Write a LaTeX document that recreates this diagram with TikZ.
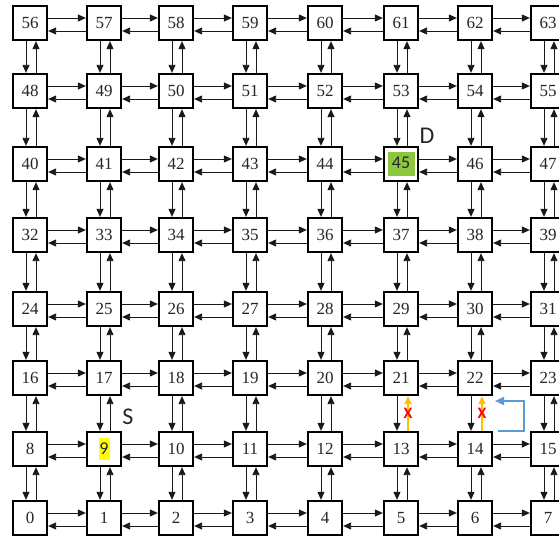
\documentclass[tikz,border=0pt]{standalone}
\usepackage{fontspec}
\setmainfont{Liberation Serif}
\newfontfamily\lblfont{Carlito}
\usetikzlibrary{arrows.meta}
\definecolor{hlgreen}{RGB}{140,198,63}
\definecolor{hlyellow}{RGB}{255,255,0}
\definecolor{warnorange}{RGB}{255,192,0}
\definecolor{reroute}{RGB}{91,155,213}
\definecolor{xred}{RGB}{255,0,0}
\newcommand\greenhl[1]{{\setlength\fboxsep{0pt}\colorbox{hlgreen}{\makebox[27pt]{\vrule width 0pt height 17pt depth 7pt\lblfont\fontsize{18}{20}\selectfont #1}}}}
\newcommand\yellowhl[1]{{\setlength\fboxsep{0pt}\colorbox{hlyellow}{\makebox[11pt]{\vrule width 0pt height 16pt depth 6pt\lblfont\fontsize{18}{20}\selectfont #1}}}}
\newcommand\celltext[1]{\ifnum#1=45 \greenhl{45}\else\ifnum#1=9 \yellowhl{9}\else #1\fi\fi}
\def\colx{{30,104,176,250,325,401,475,548}}
\def\rowy{{518,449,378,309,235,164,91,23}}
\begin{document}
\begin{tikzpicture}[x=1pt,y=-1pt,
  cell/.style={draw=black, line width=1.8pt, minimum size=34.5pt, inner sep=0pt,
    fill=white, text=black!85, font=\fontsize{17}{20}\selectfont},
  link/.style={line width=0.9pt, draw=black!90, -{Triangle[length=8pt,width=7pt]}},
  blocked/.style={line width=1.5pt, draw=warnorange, -{Triangle[length=8pt,width=7pt]}},
  xmark/.style={text=xred, inner sep=0pt, font=\lblfont\bfseries\fontsize{16}{16}\selectfont},
  detour/.style={line width=2pt, draw=reroute, -{Triangle[length=9pt,width=8pt]}},
  lbl/.style={inner sep=0pt, text=black!85, font=\lblfont\fontsize{24}{26}\selectfont}
]
\useasboundingbox (0,0) rectangle (559,540);
\clip (0,0) rectangle (559,540);
% nodes
\foreach \r in {0,...,7}{
  \foreach \c in {0,...,7}{
    \pgfmathtruncatemacro\n{8*\r+\c}
    \pgfmathsetmacro\xx{\colx[\c]}
    \pgfmathsetmacro\yy{\rowy[\r]}
    \node[cell] (n\n) at (\xx,\yy) {\celltext{\n}};
  }
}
% horizontal links
\foreach \r in {0,...,7}{
  \foreach \c in {0,...,6}{
    \pgfmathtruncatemacro\a{8*\r+\c}
    \pgfmathtruncatemacro\b{8*\r+\c+1}
    \draw[link] ([yshift=5pt]n\a.east) -- ([yshift=5pt]n\b.west);
    \draw[link] ([yshift=-8pt]n\b.west) -- ([yshift=-8pt]n\a.east);
  }
}
% vertical links
\foreach \r in {0,...,6}{
  \foreach \c in {0,...,7}{
    \pgfmathtruncatemacro\lo{8*\r+\c}
    \pgfmathtruncatemacro\hi{8*(\r+1)+\c}
    \draw[link] ([xshift=-4pt]n\hi.south) -- ([xshift=-4pt]n\lo.north);
    \ifnum\lo=13 \else\ifnum\lo=14 \else
      \draw[link] ([xshift=6pt]n\lo.north) -- ([xshift=6pt]n\hi.south);
    \fi\fi
  }
}
% blocked links
\draw[blocked] ([xshift=7pt]n13.north) -- node[xmark] {X} ([xshift=7pt]n21.south);
\draw[blocked] ([xshift=7pt]n14.north) -- node[xmark] {X} ([xshift=7pt]n22.south);
% detour
\coordinate (dstart) at (498,431);
\coordinate (dend) at (495,401);
\draw[detour] (dstart) -- ++(26,0) |- (dend);
% labels
\node[lbl] (dlab) at (427,136) {D};
\node[lbl] (slab) at (128,417) {S};
\end{tikzpicture}
\end{document}
